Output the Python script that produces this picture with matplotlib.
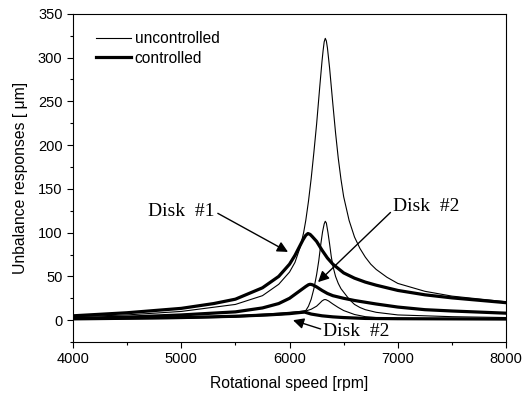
import numpy as np
import matplotlib.pyplot as plt
from matplotlib.ticker import MultipleLocator

# uncontrolled responses (thin lines)
rpm_u1 = [4000, 4500, 5000, 5500, 5750, 5900, 6000, 6050, 6100, 6130, 6150, 6175, 6200, 6225, 6250, 6265, 6280,
          6300, 6310, 6320, 6330, 6340, 6350, 6370, 6400, 6425, 6450, 6475, 6500, 6550, 6600, 6650, 6700, 6750,
          6800, 6900, 7000, 7250, 7500, 8000]
u1 = [4, 6, 10, 18, 28, 41, 55, 66, 84, 100, 114, 136, 162, 192, 224, 246, 268,
      296, 308, 318, 322, 319, 311, 288, 247, 214, 185, 161, 141, 114, 95, 82, 72, 64,
      58, 49, 42, 33, 27.5, 21]

rpm_u2 = [4000, 5000, 5500, 5900, 6000, 6100, 6150, 6175, 6200, 6225, 6250, 6270, 6290, 6305, 6320, 6330, 6340,
          6355, 6370, 6385, 6400, 6425, 6450, 6475, 6500, 6550, 6600, 6650, 6700, 6800, 7000, 7500, 8000]
u2 = [1.5, 3, 5, 8, 9, 10, 11, 16, 24, 36, 52, 68, 88, 101, 110, 113, 111,
      100, 87, 73, 62, 50, 42, 36, 32, 24, 18, 14.5, 12, 9, 6, 4, 3]

rpm_u3 = [4000, 5000, 5500, 5900, 6000, 6100, 6150, 6200, 6250, 6280, 6300, 6320, 6335, 6360, 6400, 6450, 6500,
          6600, 6700, 6800, 7000, 8000]
u3 = [1, 2, 3.5, 6, 7, 9, 10.5, 12.5, 16, 19.5, 22, 23.5, 23.5, 22, 18.5, 14.5, 11,
      6.5, 4, 3, 2, 1.5]

# controlled responses (thick lines)
rpm_c1 = [4000, 4500, 5000, 5300, 5500, 5750, 5900, 6000, 6050, 6100, 6125, 6150, 6170, 6190, 6210, 6250, 6300,
          6350, 6400, 6500, 6600, 6700, 6800, 7000, 7250, 7500, 8000]
c1 = [5, 8.5, 13.5, 19, 24, 37, 50, 64, 74, 86, 92, 97, 99, 98, 95.5, 90, 80,
      71, 64, 54, 48, 43.5, 40, 34, 29, 25.5, 20]

rpm_c2 = [4000, 4500, 5000, 5500, 5750, 5900, 6000, 6050, 6100, 6150, 6175, 6190, 6205, 6220, 6250, 6300, 6350,
          6400, 6500, 6600, 6700, 6800, 7000, 7250, 7500, 8000]
c2 = [2, 3.5, 6, 9.5, 14, 19, 25, 29.5, 34, 38.5, 40.5, 41, 40.7, 40, 38, 34, 30.5,
      28, 25, 22.5, 20.5, 18.5, 15, 12, 10.5, 8]

rpm_c3 = [4000, 4500, 5000, 5500, 5800, 6000, 6100, 6140, 6200, 6300, 6400, 6500, 6700, 7000, 8000]
c3 = [1.5, 2.2, 3, 4.5, 6, 7.5, 8.8, 9.2, 7, 5, 3.8, 3, 2, 1.7, 1.3]

fig = plt.figure(figsize=(5.25, 3.95), dpi=100)
ax = fig.add_axes([0.139, 0.134, 0.825, 0.831])

thin = 0.8
thick = 2.3
ax.plot(rpm_u1, u1, color='black', lw=thin, label='uncontrolled')
ax.plot(rpm_u2, u2, color='black', lw=thin)
ax.plot(rpm_u3, u3, color='black', lw=thin)
ax.plot(rpm_c1, c1, color='black', lw=thick, label='controlled')
ax.plot(rpm_c2, c2, color='black', lw=thick)
ax.plot(rpm_c3, c3, color='black', lw=thick)

ax.set_xlim(4000, 8000)
ax.set_ylim(-25, 350)
ax.xaxis.set_major_locator(MultipleLocator(1000))
ax.xaxis.set_minor_locator(MultipleLocator(500))
ax.yaxis.set_major_locator(MultipleLocator(50))
ax.yaxis.set_minor_locator(MultipleLocator(25))
ax.tick_params(which='major', direction='out', length=4, width=0.8, labelsize=10.5)
ax.tick_params(which='minor', direction='out', length=2.5, width=0.8)
for lab in ax.get_xticklabels() + ax.get_yticklabels():
    lab.set_family('Liberation Sans')

ax.set_xlabel('Rotational speed [rpm]', family='Liberation Sans', fontsize=11.3, labelpad=7)
ax.set_ylabel('Unbalance responses [ μm]', family='Liberation Sans', fontsize=11.3, labelpad=7)

leg = ax.legend(loc='upper left', bbox_to_anchor=(0.02, 0.99), frameon=False,
                handlelength=2.3, handletextpad=0.2, labelspacing=0.3,
                prop={'family': 'Liberation Sans', 'size': 11.2})

arrow = dict(arrowstyle='-|>', color='black', lw=1.0, mutation_scale=16, shrinkA=0, shrinkB=0)
serif = {'family': 'Liberation Serif', 'size': 14}
ax.annotate('Disk  #1', xy=(5986, 78), xytext=(5000, 124), ha='center', va='center',
            arrowprops=dict(arrow, relpos=(1.05, 0.4)), **serif)
ax.annotate('Disk  #2', xy=(6263, 43.5), xytext=(7265, 130), ha='center', va='center',
            arrowprops=dict(arrow, relpos=(0.0, 0.3)), **serif)
ax.annotate('Disk  #2', xy=(6032, 0), xytext=(6620, -13), ha='center', va='center',
            arrowprops=dict(arrow, relpos=(0.0, 0.6)), **serif)

plt.savefig('out.png', dpi=100)
